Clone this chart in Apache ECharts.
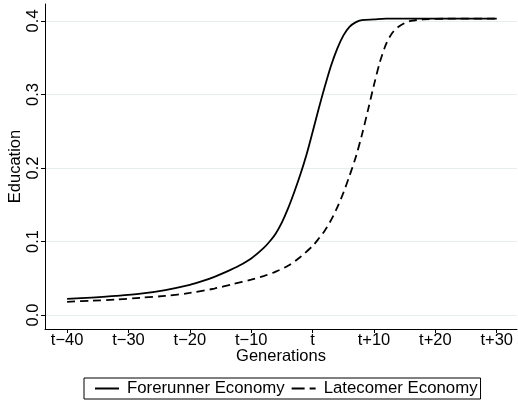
<!DOCTYPE html>
<html>
<head>
<meta charset="utf-8">
<script src="https://cdn.jsdelivr.net/npm/echarts@6/dist/echarts.min.js"></script>
<style>
html,body{margin:0;padding:0;background:#fff;}
#chart{width:518px;height:404px;}
</style>
</head>
<body>
<div id="chart"></div>
<script>
// Generations relative to t, and education level
var foreGen = [-40,-36,-32,-28,-24,-20,-18,-16,-14,-12,-10,-8,-7,-6,-5,-4,-3,-2,-1,0,1,2,3,4,5,6,7,8,10,12,20,30];
var foreEdu = [0.022,0.0238,0.026,0.029,0.034,0.041,0.046,0.052,0.059,0.067,0.077,0.091,0.100,0.111,0.126,0.145,0.167,0.191,0.218,0.249,0.281,0.311,0.339,0.362,0.380,0.392,0.398,0.401,0.402,0.403,0.403,0.403];
var lateGen = [-40,-36,-32,-28,-24,-20,-16,-13,-10,-8,-6,-4,-2,0,1,2,3,4,5,6,7,8,9,10,11,12,13,14,15,16,18,22,30];
var lateEdu = [0.018,0.0195,0.021,0.0235,0.026,0.030,0.036,0.042,0.048,0.053,0.059,0.067,0.079,0.094,0.104,0.115,0.129,0.146,0.166,0.189,0.214,0.244,0.278,0.313,0.345,0.369,0.384,0.392,0.397,0.400,0.402,0.403,0.403];
var seriesNames = ['Forerunner Economy', 'Latecomer Economy'];
var xTickValues = [-40,-30,-20,-10,0,10,20,30];
var xTickLabels = ['t\u221240','t\u221230','t\u221220','t\u221210','t','t+10','t+20','t+30'];
var yTickValues = [0,0.1,0.2,0.3,0.4];
var yTickLabels = ['0.0','0.1','0.2','0.3','0.4'];

function pairs(xs, ys){ return xs.map(function(x,i){ return [x, ys[i]]; }); }
function lookup(vals, labels){ return function(v){ for (var i=0;i<vals.length;i++){ if (Math.abs(vals[i]-v)<1e-9) return labels[i]; } return ''; }; }

var font = '"Liberation Sans", Arial, sans-serif';
var fs = 16.5;
var chart = echarts.init(document.getElementById('chart'), null, {renderer:'canvas'});
chart.setOption({
  animation: false,
  backgroundColor: '#fff',
  textStyle: {fontFamily: font},
  grid: {left: 45, right: 1, top: 4, bottom: 75, containLabel: false, outerBoundsMode: 'none'},
  xAxis: {
    type: 'value', min: -43.6, max: 33.3,
    name: 'Generations', nameLocation: 'middle', nameGap: 19, nameMoveOverlap: false,
    nameTextStyle: {fontSize: fs, color: '#000', fontFamily: font},
    axisLine: {show: true, onZero: false, lineStyle: {color: '#000', width: 1}},
    axisTick: {show: true, length: 4, customValues: xTickValues, lineStyle: {color: '#000'}},
    axisLabel: {customValues: xTickValues, formatter: lookup(xTickValues, xTickLabels), fontSize: fs, color: '#000', margin: 3, fontFamily: font},
    splitLine: {show: false}
  },
  yAxis: {
    type: 'value', min: -0.019, max: 0.423,
    name: 'Education', nameLocation: 'middle', nameGap: 21, nameRotate: 90, nameMoveOverlap: false,
    nameTextStyle: {fontSize: fs, color: '#000', fontFamily: font},
    axisLine: {show: true, onZero: false, lineStyle: {color: '#000', width: 1}},
    axisTick: {show: true, length: 4, customValues: yTickValues, lineStyle: {color: '#000'}},
    axisLabel: {customValues: yTickValues, formatter: lookup(yTickValues, yTickLabels), rotate: 90, fontSize: fs, color: '#000', margin: 3, fontFamily: font},
    splitLine: {show: true, lineStyle: {color: '#e6eff0', width: 1}}
  },
  legend: {
    show: true, left: 84, top: 378, orient: 'horizontal',
    borderColor: '#000', borderWidth: 1, borderRadius: 0,
    padding: [2, 3, 2, 11], itemGap: 7, itemWidth: 24, itemHeight: 2,
    textStyle: {fontSize: 16.8, color: '#000', fontFamily: font, padding: [0, 0, 0, 3]},
    data: [
      {name: seriesNames[0], icon: 'path://M0,0H24V2H0Z', itemStyle: {color: '#000'}},
      {name: seriesNames[1], icon: 'path://M0,0H13V2H0Z M18,0H24V2H18Z', itemStyle: {color: '#000'}}
    ]
  },
  series: [
    {name: seriesNames[0], type: 'line', data: pairs(foreGen, foreEdu), showSymbol: false, symbol: 'none',
     smooth: 0.3, lineStyle: {color: '#000', width: 1.8, type: 'solid'}, itemStyle: {color: '#000'}},
    {name: seriesNames[1], type: 'line', data: pairs(lateGen, lateEdu), showSymbol: false, symbol: 'none',
     smooth: 0.3, lineStyle: {color: '#000', width: 1.8, type: [8, 5]}, itemStyle: {color: '#000'}}
  ]
});
</script>
</body>
</html>
